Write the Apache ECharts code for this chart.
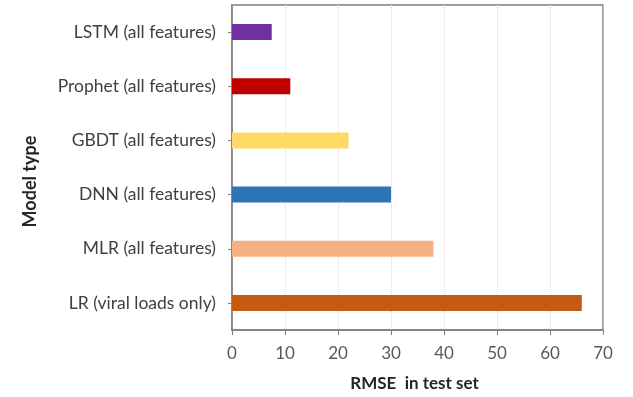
<!DOCTYPE html>
<html><head><meta charset="utf-8">
<script src="https://cdn.jsdelivr.net/npm/echarts@6/dist/echarts.min.js"></script>
<style>html,body{margin:0;padding:0;background:#fff}#c{width:633px;height:397px}</style>
</head><body><div id="c"></div>
<script>
const categories = ["LR (viral loads only)", "MLR (all features)", "DNN (all features)", "GBDT (all features)", "Prophet (all features)", "LSTM (all features)"];
const rmse = [66, 38, 30, 22, 11, 7.5];
const barColors = ["#C55A11", "#F4B183", "#2E75B6", "#FFD966", "#C00000", "#7030A0"];
const xTicks = [0, 10, 20, 30, 40, 50, 60, 70];

const font = "Lato, 'Open Sans', sans-serif";
const chart = echarts.init(document.getElementById('c'));
chart.setOption({
  animation: false,
  grid: { left: 232, right: 30, top: 5, bottom: 67, show: true, borderColor: '#7f7f7f', borderWidth: 1.5, backgroundColor: 'transparent' },
  xAxis: {
    type: 'value', min: xTicks[0], max: xTicks[xTicks.length - 1], interval: 10,
    name: 'RMSE  in test set', nameLocation: 'middle', nameGap: 45,
    nameTextStyle: { fontFamily: font, fontWeight: 'bold', fontSize: 17, color: '#262626', padding: [0, 6, 0, 0] },
    axisLine: { show: true, lineStyle: { color: '#7f7f7f', width: 1.5 } },
    axisTick: { show: true, length: 5, lineStyle: { color: '#7f7f7f' } },
    axisLabel: { fontFamily: font, fontSize: 17, color: '#595959', margin: 15 },
    splitLine: { show: true, lineStyle: { color: '#d9d9d9', type: 'dotted' } }
  },
  yAxis: {
    type: 'category', data: categories,
    name: 'Model type', nameLocation: 'middle', nameGap: 193, nameRotate: 90,
    nameTextStyle: { fontFamily: font, fontWeight: 'bold', fontSize: 18, color: '#262626', padding: [0, 28, 0, 0] },
    axisLine: { show: true, lineStyle: { color: '#7f7f7f', width: 1.5 } },
    axisTick: { show: true, alignWithLabel: true, length: 4, lineStyle: { color: '#7f7f7f' } },
    axisLabel: { fontFamily: font, fontSize: 17.5, color: '#404040', margin: 16 },
    splitLine: { show: false }
  },
  series: [{
    type: 'bar', barWidth: 16,
    data: rmse.map((v, i) => ({ value: v, itemStyle: { color: barColors[i] } }))
  }]
});
</script></body></html>
